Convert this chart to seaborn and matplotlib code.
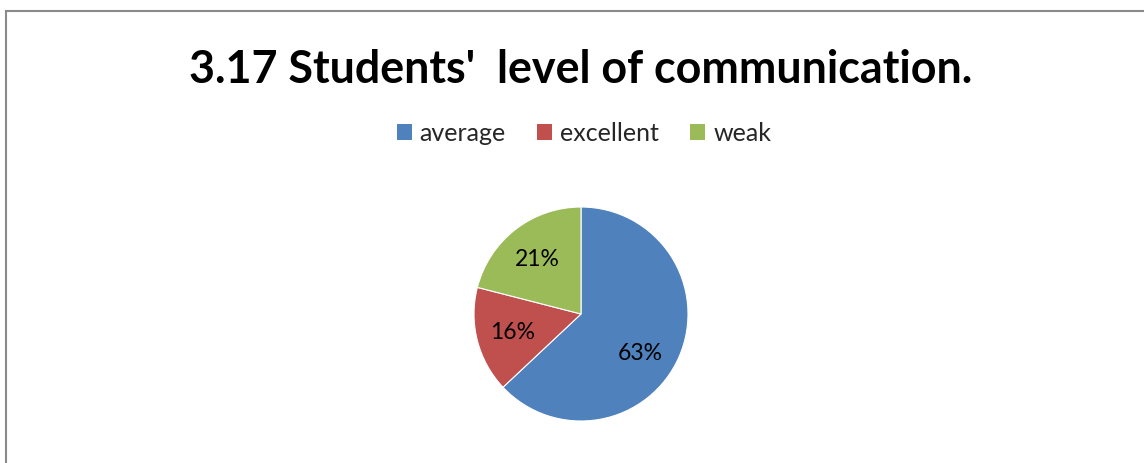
import matplotlib
matplotlib.use("Agg")
import matplotlib.pyplot as plt
from matplotlib.patches import Rectangle, Patch
import seaborn as sns

# Survey results: students' level of communication
categories = ["average", "excellent", "weak"]
shares = [63, 16, 21]
title = "3.17 Students'  level of communication."

sns.set_theme(style="white")
plt.rcParams["font.family"] = ["Lato", "DejaVu Sans"]
colors = sns.color_palette(["#4F81BD", "#C0504D", "#9BBB59"])

W, H = 1144, 464
fig = plt.figure(figsize=(W / 100, H / 100), dpi=100)
fig.patch.set_facecolor("white")

# Chart-area frame (runs off the right and bottom edges)
fig.patches.append(Rectangle((5.5 / W, -0.05), 1.1, 1 - 11.5 / H + 0.05,
                             transform=fig.transFigure, fill=False,
                             edgecolor="#8a8a8a", linewidth=1.5, zorder=0))

fig.text(581 / W, 1 - 70 / H, title, ha="center", va="center",
         fontsize=32.3, fontweight="bold", color="black")

cx, cy, r = 581, 315, 107
ax = fig.add_axes([(cx - r) / W, (H - cy - r) / H, 2 * r / W, 2 * r / H])
wedges, texts, autotexts = ax.pie(
    shares, colors=colors, startangle=90, counterclock=False,
    autopct="%1.0f%%", pctdistance=0.66,
    wedgeprops=dict(edgecolor="white", linewidth=0.8),
    textprops=dict(fontsize=16.5, color="black"))
ax.set_xlim(-1, 1)
ax.set_ylim(-1, 1)
ax.set_aspect("equal")
ax.axis("off")

# Large slice label sits a little lower, toward the slice's bulk
x0, y0 = autotexts[0].get_position()
autotexts[0].set_position((x0 - 0.05, y0 - 0.1))

handles = [Patch(facecolor=c, edgecolor="none") for c in colors]
fig.legend(handles, categories, loc="center", bbox_to_anchor=(584 / W, 1 - 134 / H),
           ncol=3, frameon=False, fontsize=18, handlelength=0.6, handleheight=0.6,
           handletextpad=0.32, columnspacing=1.25)

fig.savefig("out.png", dpi=100, facecolor="white")
